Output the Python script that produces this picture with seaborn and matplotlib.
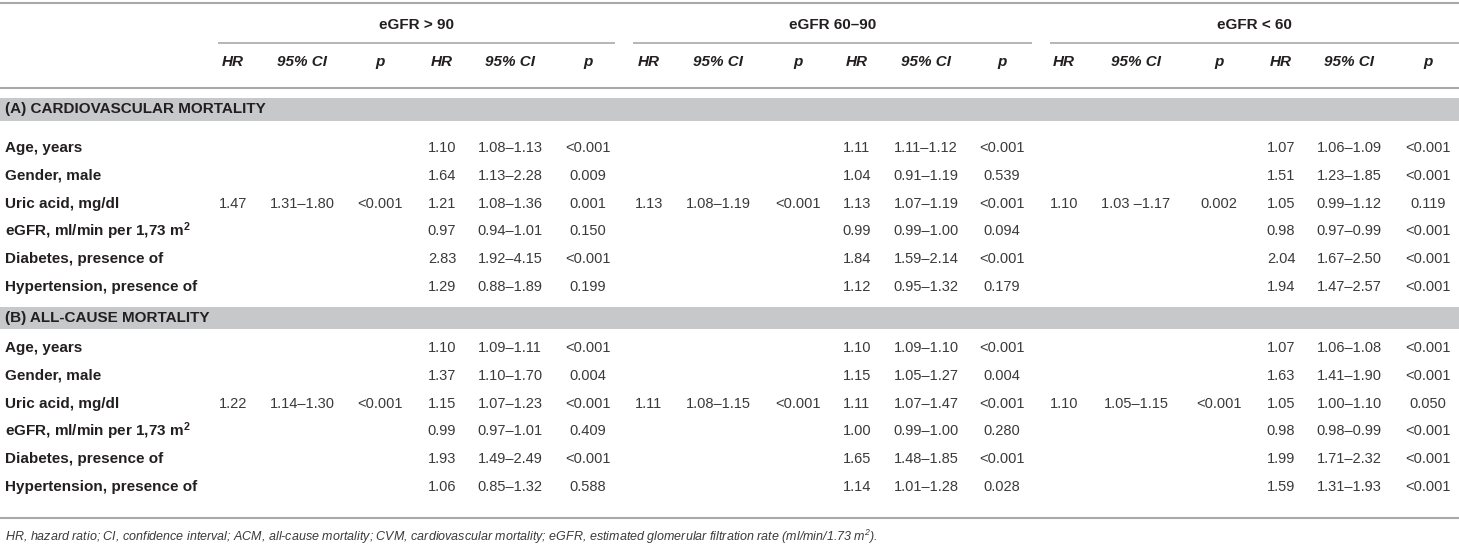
import matplotlib
matplotlib.use("Agg")
import matplotlib.pyplot as plt
import seaborn as sns

# Table content
groups = ["eGFR > 90", "eGFR 60–90", "eGFR < 60"]
col_heads = ["HR", "95% CI", "p", "HR", "95% CI", "p"]
sections = ["(A) CARDIOVASCULAR MORTALITY", "(B) ALL-CAUSE MORTALITY"]
row_labels = [
    "Age, years",
    "Gender, male",
    "Uric acid, mg/dl",
    "eGFR, ml/min per 1,73 m$^{\\mathbf{2}}$",
    "Diabetes, presence of",
    "Hypertension, presence of",
]
uric_row = 2  # univariate results only given for uric acid

# (A) cardiovascular mortality - univariate uric acid, per eGFR group
cvm_uni_hr = ["1.47", "1.13", "1.10"]
cvm_uni_ci = ["1.31–1.80", "1.08–1.19", "1.03 –1.17"]
cvm_uni_p = ["<0.001", "<0.001", "0.002"]

# (A) cardiovascular mortality - adjusted model, per eGFR group
cvm_hr = [
    ["1.10", "1.64", "1.21", "0.97", "2.83", "1.29"],
    ["1.11", "1.04", "1.13", "0.99", "1.84", "1.12"],
    ["1.07", "1.51", "1.05", "0.98", "2.04", "1.94"],
]
cvm_ci = [
    ["1.08–1.13", "1.13–2.28", "1.08–1.36", "0.94–1.01", "1.92–4.15", "0.88–1.89"],
    ["1.11–1.12", "0.91–1.19", "1.07–1.19", "0.99–1.00", "1.59–2.14", "0.95–1.32"],
    ["1.06–1.09", "1.23–1.85", "0.99–1.12", "0.97–0.99", "1.67–2.50", "1.47–2.57"],
]
cvm_p = [
    ["<0.001", "0.009", "0.001", "0.150", "<0.001", "0.199"],
    ["<0.001", "0.539", "<0.001", "0.094", "<0.001", "0.179"],
    ["<0.001", "<0.001", "0.119", "<0.001", "<0.001", "<0.001"],
]

# (B) all-cause mortality - univariate uric acid
acm_uni_hr = ["1.22", "1.11", "1.10"]
acm_uni_ci = ["1.14–1.30", "1.08–1.15", "1.05–1.15"]
acm_uni_p = ["<0.001", "<0.001", "<0.001"]

# (B) all-cause mortality - adjusted model
acm_hr = [
    ["1.10", "1.37", "1.15", "0.99", "1.93", "1.06"],
    ["1.10", "1.15", "1.11", "1.00", "1.65", "1.14"],
    ["1.07", "1.63", "1.05", "0.98", "1.99", "1.59"],
]
acm_ci = [
    ["1.09–1.11", "1.10–1.70", "1.07–1.23", "0.97–1.01", "1.49–2.49", "0.85–1.32"],
    ["1.09–1.10", "1.05–1.27", "1.07–1.47", "0.99–1.00", "1.48–1.85", "1.01–1.28"],
    ["1.06–1.08", "1.41–1.90", "1.00–1.10", "0.98–0.99", "1.71–2.32", "1.31–1.93"],
]
acm_p = [
    ["<0.001", "0.004", "<0.001", "0.409", "<0.001", "0.588"],
    ["<0.001", "0.004", "<0.001", "0.280", "<0.001", "0.028"],
    ["<0.001", "<0.001", "0.050", "<0.001", "<0.001", "<0.001"],
]

footnote = ("HR, hazard ratio; CI, confidence interval; ACM, all-cause mortality; "
            "CVM, cardiovascular mortality; eGFR, estimated glomerular filtration rate "
            "(ml/min/1.73 m$^{2}$).")

# ----- style -----
sns.set_theme(style="white")
plt.rcParams["font.family"] = ["Liberation Sans", "DejaVu Sans"]
plt.rcParams["mathtext.fontset"] = "custom"
plt.rcParams["mathtext.rm"] = "Liberation Sans:italic"
plt.rcParams["mathtext.it"] = "Liberation Sans:italic"
plt.rcParams["mathtext.bf"] = "Liberation Sans:bold"

TXT = "#231f20"
NUM = "#3a3a3a"
RULE = "#a7a9ac"
BAND = "#c7c8ca"

fig = plt.figure(figsize=(14.59, 5.51), dpi=100)
ax = fig.add_axes([0, 0, 1, 1])
ax.set_xlim(0, 1459)
ax.set_ylim(551, 0)
ax.axis("off")

# layout (pixel grid)
col_x = [
    [233, 302, 380, 442, 510, 588],
    [649, 718, 798, 857, 926, 1002],
    [1064, 1136, 1219, 1281, 1349, 1428],
]
group_span = [(218, 615), (633, 1032), (1050, 1459)]
row_step = 27.8
band_y = [(98, 121), (307, 329)]
row0_y = [148, 348]

# header
ax.hlines(3, 0, 1459, color=RULE, lw=1.5)
for g, (x0, x1) in zip(groups, group_span):
    ax.text((x0 + x1) / 2, 25, g, ha="center", va="center",
            fontsize=11, fontweight="bold", color=TXT)
    ax.hlines(43, x0, x1, color=RULE, lw=1.2)
for gi in range(3):
    for ci, h in enumerate(col_heads):
        ax.text(col_x[gi][ci], 62, h, ha="center", va="center", fontsize=11,
                fontweight="bold", fontstyle="italic", color=TXT)
ax.hlines(88, 0, 1459, color=RULE, lw=1.5)

blocks = [
    (cvm_uni_hr, cvm_uni_ci, cvm_uni_p, cvm_hr, cvm_ci, cvm_p),
    (acm_uni_hr, acm_uni_ci, acm_uni_p, acm_hr, acm_ci, acm_p),
]

for si, sec in enumerate(sections):
    y0, y1 = band_y[si]
    ax.axhspan(y0, y1, color=BAND, lw=0)
    ax.text(5, (y0 + y1) / 2, sec, ha="left", va="center",
            fontsize=11, fontweight="bold", color=TXT)
    uni_hr, uni_ci, uni_p, hr, ci, p = blocks[si]
    for ri, lab in enumerate(row_labels):
        y = row0_y[si] + ri * row_step
        ax.text(5, y, lab, ha="left", va="center", fontsize=11,
                fontweight="bold", color=TXT)
        for gi in range(3):
            if ri == uric_row:
                for k, v in enumerate([uni_hr[gi], uni_ci[gi], uni_p[gi]]):
                    ax.text(col_x[gi][k], y, v, ha="center", va="center",
                            fontsize=10.5, color=NUM)
            for k, v in enumerate([hr[gi][ri], ci[gi][ri], p[gi][ri]]):
                ax.text(col_x[gi][k + 3], y, v, ha="center", va="center",
                        fontsize=10.5, color=NUM)

ax.hlines(518, 0, 1459, color=RULE, lw=1.5)
ax.text(5, 537, footnote, ha="left", va="center", fontsize=9,
        fontstyle="italic", color=NUM)

fig.savefig("out.png", dpi=100)
